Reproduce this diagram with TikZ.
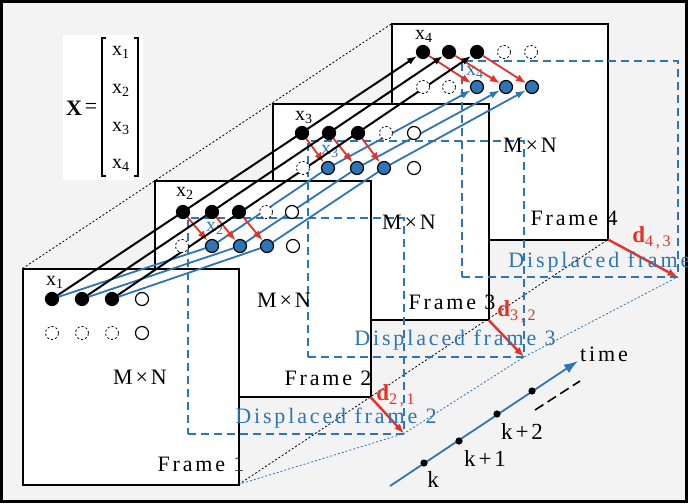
\documentclass[tikz,border=0pt]{standalone}
\usepackage{fontspec}
\setmainfont{Liberation Serif}
\newfontfamily\spacedfont[LetterSpace=13]{Liberation Serif}
\usepackage{tikz}
\usetikzlibrary{arrows.meta, calc, positioning}
\definecolor{bggray}{HTML}{F3F3F3}
\definecolor{mvblue}{HTML}{2E75B6}
\definecolor{mvred}{HTML}{E53228}
\pgfdeclarelayer{floor}
\pgfdeclarelayer{back}
\pgfdeclarelayer{wires}
\pgfsetlayers{floor,back,wires,main}

\begin{document}
\begin{tikzpicture}[
    x=0.5pt, y=-0.5pt,
    >={Latex[length=5pt,width=3.6pt]},
    framebox/.style={
        draw,
        fill=white,
        line width=1pt,
        minimum width=108pt,
        minimum height=108pt,
        inner sep=0pt,
        outer sep=0pt
    },
    dispbox/.style={
        draw=mvblue,
        line width=1pt,
        dash pattern=on 4pt off 2.5pt,
        minimum width=108pt,
        minimum height=108pt,
        inner sep=0pt,
        outer sep=0pt
    },
    pix/.style={circle, minimum size=6.5pt, inner sep=0pt, line width=0.6pt},
    bdot/.style={pix, draw, fill=black},
    udot/.style={pix, draw, fill=mvblue},
    wdot/.style={pix, draw, fill=white},
    edot/.style={pix, draw, fill=white, line width=0.4pt, dash pattern=on 1.1pt off 1pt},
    tdot/.style={circle, fill=black, minimum size=3.6pt, inner sep=0pt},
    sptext/.style={font=\spacedfont\fontsize{11}{13}\selectfont, inner sep=0pt},
    xlab/.style={font=\fontsize{10}{12}\selectfont, inner sep=0pt},
    dlab/.style={font=\fontsize{11.5}{13}\selectfont, text=mvred, inner sep=0pt},
    blkline/.style={line width=1pt},
    bluline/.style={draw=mvblue, line width=0.9pt},
    redarr/.style={draw=mvred, line width=0.9pt, -{Latex[length=5pt,width=3.8pt]}},
    dotline/.style={line width=0.4pt, dash pattern=on 1pt off 1pt}
]
  \useasboundingbox (0,0) rectangle (688,503);

  % pixels of the four frames
  \foreach \c/\x in {1/52,2/82,3/112} {
    \node[bdot] (b1-\c) at (\x,299) {};
    \node[edot] (e1-\c) at (\x,333) {};
  }
  \node[wdot] (w1-1) at (142,299) {};
  \node[wdot] (w1-2) at (142,333) {};

  \foreach \c/\x in {1/183,2/212,3/239} \node[bdot] (b2-\c) at (\x,212) {};
  \foreach \c/\x in {1/212,2/240,3/267} \node[udot] (u2-\c) at (\x,246) {};
  \node[edot] (e2-1) at (266,212) {};
  \node[wdot] (w2-1) at (292,212) {};
  \node[edot] (e2-2) at (182,246) {};
  \node[wdot] (w2-2) at (293,246) {};

  \foreach \c/\x in {1/302,2/329,3/358} \node[bdot] (b3-\c) at (\x,133) {};
  \foreach \c/\x in {1/328,2/357,3/384} \node[udot] (u3-\c) at (\x,168) {};
  \node[edot] (e3-1) at (386,133) {};
  \node[wdot] (w3-1) at (414,133) {};
  \node[edot] (e3-2) at (303,168) {};
  \node[wdot] (w3-2) at (414,168) {};

  \foreach \c/\x in {1/423,2/449,3/477} \node[bdot] (b4-\c) at (\x,52) {};
  \foreach \c/\x in {1/477,2/506,3/532} \node[udot] (u4-\c) at (\x,87) {};
  \node[edot] (e4-1) at (504,52) {};
  \node[edot] (e4-2) at (531,52) {};
  \node[edot] (e4-3) at (423,87) {};
  \node[edot] (e4-4) at (449,87) {};

  \begin{pgfonlayer}{back}
    \node[framebox] (f4) at (500,131.5) {};
    \node[framebox] (f3) at (380.5,212) {};
    \node[framebox] (f2) at (262.5,289) {};
    \node[framebox] (f1) at (130.5,376.5) {};
    \node[dispbox] (df2) at (296,325.5) {};
    \node[dispbox] (df3) at (416,249) {};
    \node[dispbox] (df4) at (569.5,169) {};
  \end{pgfonlayer}

  \begin{pgfonlayer}{floor}
    \fill[bggray] (0,0) rectangle (688,503);
    \draw[line width=1.5pt] (1.5,1.5) rectangle (686.5,501.5);
    \draw[dotline] (f1.north west) -- (f4.north west);
    \draw[dotline] (f1.south east) -- (f4.south east);
    \draw[dotline, mvblue] (f1.south east) -- (df2.south east) -- (df3.south east) -- (df4.south east);
  \end{pgfonlayer}

  \begin{pgfonlayer}{wires}
    \node[xlab, text=mvblue] (v2) at (215,228) {x\textsubscript{2}};
    \node[xlab, text=mvblue] (v3) at (330,151) {x\textsubscript{3}};
    \node[xlab, text=mvblue] (v4) at (475,72) {x\textsubscript{4}};
    \foreach \c in {1,2,3} {
      \draw[blkline,->] (b1-\c) -- (b4-\c);
      \draw[bluline,->] (b1-\c) -- (u2-\c) -- (u3-\c) -- (u4-\c);
      \foreach \k in {2,3,4}
        \draw[redarr] (b\k-\c) -- (u\k-\c);
    }
    \draw[redarr, line width=1.2pt] (f2.south east) -- (df2.south east);
    \draw[redarr, line width=1.2pt] (f3.south east) -- (df3.south east);
    \draw[redarr, line width=1.2pt] (f4.south east) -- (df4.south east);
  \end{pgfonlayer}

  \node[xlab] (x1) at (55,282) {x\textsubscript{1}};
  \node[xlab] (x2) at (185,193) {x\textsubscript{2}};
  \node[xlab] (x3) at (304,117) {x\textsubscript{3}};
  \node[xlab] (x4) at (424,36) {x\textsubscript{4}};

  \node[sptext] (mn1) at (140,377) {M×N};
  \node[sptext] (mn2) at (284,300) {M×N};
  \node[sptext] (mn3) at (409,222) {M×N};
  \node[sptext] (mn4) at (530,145) {M×N};
  \node[sptext] (ft1) at (201,464) {Frame 1};
  \node[sptext] (ft2) at (328,378) {Frame 2};
  \node[sptext] (ft3) at (452,302) {Frame 3};
  \node[sptext] (ft4) at (574,218) {Frame 4};
  \node[sptext, text=mvblue] (dt2) at (336,418) {Displaced frame 2};
  \node[sptext, text=mvblue] (dt3) at (455,340) {Displaced frame 3};
  \node[sptext, text=mvblue, anchor=west] (dt4) at (508,262) {Displaced frame};

  \node[dlab] (d21) at (396,396) {\textbf{d}\textsubscript{2\,,\,1}};
  \node[dlab] (d32) at (517,312) {\textbf{d}\textsubscript{3\,,\,2}};
  \node[dlab] (d43) at (652,238) {\textbf{d}\textsubscript{4\,,\,3}};

  % the vector X
  \node[fill=white, minimum width=40pt, minimum height=72.5pt, inner sep=0pt] (xbox) at (103,107.5) {};
  \node[font=\fontsize{11}{13}\selectfont\bfseries, inner sep=0pt] (xname) at (74,108) {X};
  \node[font=\fontsize{11}{13}\selectfont, inner sep=0pt] (xeq) at (91,108) {=};
  \foreach \i/\y in {1/52,2/90,3/128,4/165}
    \node[xlab] (m\i) at (121,\y) {x\textsubscript{\i}};
  \draw[line width=0.6pt] (106,38) -- (102,38) -- (102,176) -- (106,176);
  \draw[line width=0.6pt] (134,38) -- (138,38) -- (138,176) -- (134,176);

  % time axis
  \coordinate (t0) at (390,486);
  \coordinate (t5) at (578,361);
  \draw[bluline, -{Latex[length=7pt,width=5pt]}] (t0) -- (t5);
  \node[tdot] (t1) at (424,463) {};
  \node[tdot] (t2) at (459,441) {};
  \node[tdot] (t3) at (497,414) {};
  \node[tdot] (t4) at (532,391) {};
  \coordinate (g0) at (535,410);
  \coordinate (g1) at (580,381);
  \draw[line width=0.8pt, dash pattern=on 5pt off 2.5pt] (g0) -- (g1);
  \node[sptext, font=\spacedfont\fontsize{11.5}{13}\selectfont] (k0) at (433,480) {k};
  \node[sptext, font=\spacedfont\fontsize{11.5}{13}\selectfont] (k1) at (485,459) {k+1};
  \node[sptext, font=\spacedfont\fontsize{11.5}{13}\selectfont] (k2) at (522,432) {k+2};
  \node[sptext] (tm) at (604,354) {time};
\end{tikzpicture}
\end{document}
